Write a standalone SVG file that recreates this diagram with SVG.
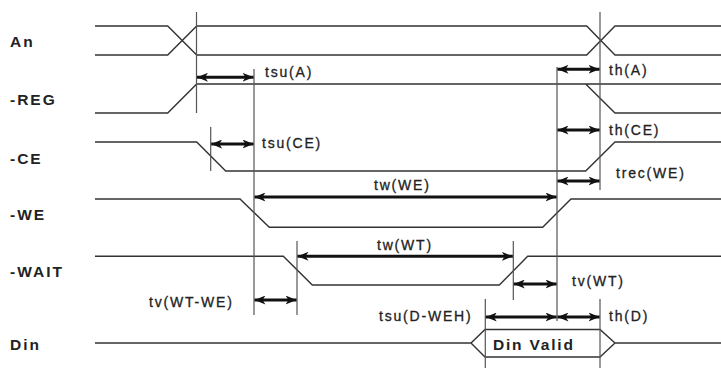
<svg xmlns="http://www.w3.org/2000/svg" width="721" height="368" viewBox="0 0 721 368">
<defs>
<marker id="ah" markerUnits="userSpaceOnUse" markerWidth="12" markerHeight="9" refX="11" refY="4.5" orient="auto-start-reverse" viewBox="0 0 12 9">
<path d="M0,0 L11,4.5 L0,9 L3,4.5 Z" fill="#111"/>
</marker>
</defs>
<style>
.sig{font-family:"Liberation Sans",Arial,sans-serif;font-weight:bold;font-size:15.5px;fill:#222;letter-spacing:2px}
.lbl{font-family:"Liberation Sans",Arial,sans-serif;font-size:14px;fill:#222;stroke:#222;stroke-width:0.3;letter-spacing:1.8px}
.wave{fill:none;stroke:#333;stroke-width:1.4}
.guide{fill:none;stroke:#555;stroke-width:1.2}
.dim{fill:none;stroke:#111;stroke-width:3;marker-start:url(#ah);marker-end:url(#ah)}
</style>
<rect width="721" height="368" fill="#fff"/>
<g id="signal-labels">
<text class="sig" x="10" y="47">An</text>
<text class="sig" x="10" y="105">-REG</text>
<text class="sig" x="10" y="163.5">-CE</text>
<text class="sig" x="10" y="220">-WE</text>
<text class="sig" x="10" y="277">-WAIT</text>
<text class="sig" x="10" y="349.5">Din</text>
</g>
<g id="waveforms">
<path id="an" class="wave" d="M95,26 H167.7 L196.7,55 H586.7 L615,26 H721 M95,55 H167.7 L196.7,26 H586.7 L615,55 H721"/>
<path id="reg" class="wave" d="M95,113 H167.7 L196.7,84 H721 M585.7,84 L615,113 H721"/>
<path id="ce" class="wave" d="M95,142 H196.7 L225.7,171 H585.7 L615,142 H721"/>
<path id="we" class="wave" d="M95,199 H240 L269.3,227.3 H542.7 L571,199 H721"/>
<path id="wait" class="wave" d="M95,256.3 H283.3 L312.3,285 H499.3 L527.7,256.3 H721"/>
<path id="din" class="wave" d="M95,343 H471 L485,329.5 H600 L615,343 H721 M471,343 L485,357 H600 L615,343"/>
<text class="sig" x="493" y="350" style="letter-spacing:1.8px">Din Valid</text>
</g>
<g id="guides">
<line class="guide" x1="196.5" y1="12" x2="196.5" y2="113"/>
<line class="guide" x1="254" y1="69" x2="254" y2="315"/>
<line class="guide" x1="210.7" y1="127" x2="210.7" y2="171"/>
<line class="guide" x1="297" y1="241" x2="297" y2="315"/>
<line class="guide" x1="513.3" y1="241" x2="513.3" y2="300"/>
<line class="guide" x1="557" y1="67" x2="557" y2="321"/>
<line class="guide" x1="600" y1="12" x2="600" y2="190"/>
<line class="guide" x1="600" y1="299" x2="600" y2="368"/>
<line class="guide" x1="485.3" y1="299" x2="485.3" y2="368"/>
</g>
<g id="connectors">
<line class="dim" x1="197" y1="77.3" x2="253.5" y2="77.3"/>
<line class="dim" x1="211.2" y1="144" x2="253.5" y2="144"/>
<line class="dim" x1="557.5" y1="69.3" x2="599.5" y2="69.3"/>
<line class="dim" x1="557.5" y1="130" x2="599.5" y2="130"/>
<line class="dim" x1="557.5" y1="181" x2="599.5" y2="181"/>
<line class="dim" x1="254.5" y1="197" x2="556.5" y2="197"/>
<line class="dim" x1="297.5" y1="256.3" x2="512.8" y2="256.3"/>
<line class="dim" x1="254.5" y1="300" x2="296.5" y2="300"/>
<line class="dim" x1="513.8" y1="284" x2="556.5" y2="284"/>
<line class="dim" x1="485.8" y1="317" x2="556.5" y2="317"/>
<line class="dim" x1="557.5" y1="317" x2="599.5" y2="317"/>
</g>
<g id="timing-labels">
<text class="lbl" x="265" y="77">tsu(A)</text>
<text class="lbl" x="262" y="148">tsu(CE)</text>
<text class="lbl" x="609" y="75">th(A)</text>
<text class="lbl" x="609" y="135">th(CE)</text>
<text class="lbl" x="616" y="178">trec(WE)</text>
<text class="lbl" x="374" y="190">tw(WE)</text>
<text class="lbl" x="377" y="250">tw(WT)</text>
<text class="lbl" x="149" y="307">tv(WT-WE)</text>
<text class="lbl" x="572" y="286">tv(WT)</text>
<text class="lbl" x="379" y="321">tsu(D-WEH)</text>
<text class="lbl" x="609" y="321">th(D)</text>
</g>
</svg>
